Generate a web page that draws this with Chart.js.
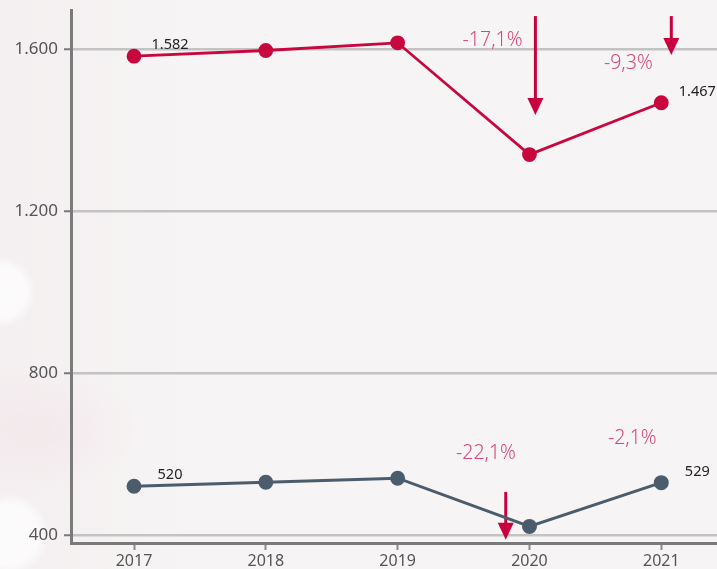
<!DOCTYPE html>
<html>
<head>
<meta charset="utf-8">
<script src="https://cdn.jsdelivr.net/npm/chart.js@4"></script>
<style>
  html, body { margin: 0; padding: 0; width: 717px; height: 569px; overflow: hidden; }
  body {
    background:
      radial-gradient(circle at 0px 292px, rgba(255,255,255,0.8) 0, rgba(255,255,255,0.7) 26px, rgba(255,255,255,0) 36px),
      radial-gradient(circle at 8px 535px, rgba(255,255,255,0.8) 0, rgba(255,255,255,0.7) 30px, rgba(255,255,255,0) 42px),
      radial-gradient(ellipse at 40px 430px, rgba(242,222,228,0.4) 0, rgba(242,222,228,0) 100px),
      linear-gradient(90deg, #f4eff0 0, #f6f4f4 180px, #f6f4f4 100%);
  }
  #wrap { position: relative; width: 730px; height: 569px; }
</style>
</head>
<body>
<div id="wrap"><canvas id="grafico"></canvas></div>
<script>
const anos = ["2017", "2018", "2019", "2020", "2021"];
const serieA = [1582, 1596, 1615, 1339, 1467];
const serieB = [520, 530, 540, 421, 529];
const yTicks = [400, 800, 1200, 1600];

// anotações: variação em % com seta (x em índice do ano, y em valor)
const variacoes = [
  { texto: "-17,1%", x: 2.72, y: 1622 },
  { texto: "-9,3%", x: 3.75, y: 1563 },
  { texto: "-22,1%", x: 2.67, y: 600 },
  { texto: "-2,1%", x: 3.78, y: 637 }
];
const setas = [
  { x: 3.045, de: 1681, ate: 1437 },
  { x: 4.076, de: 1681, ate: 1585 },
  { x: 2.82, de: 506, ate: 388 }
];

const fmt = v => Math.round(v).toString().replace(/\B(?=(\d{3})+(?!\d))/g, ".");
const FONTE = "'Noto Sans', sans-serif";
const pontos = serie => serie.map((v, i) => ({ x: i, y: v }));

const pluginExtras = {
  id: 'extras',
  beforeDatasetsDraw(chart) {
    const ctx = chart.ctx, xs = chart.scales.x, ys = chart.scales.y;
    ctx.save();
    ctx.strokeStyle = '#c8003f';
    ctx.fillStyle = '#c8003f';
    ctx.lineWidth = 3;
    setas.forEach(s => {
      const x = xs.getPixelForValue(s.x), y1 = ys.getPixelForValue(s.de), y2 = ys.getPixelForValue(s.ate);
      ctx.beginPath();
      ctx.moveTo(x, y1);
      ctx.lineTo(x, y2 - 12);
      ctx.stroke();
      ctx.beginPath();
      ctx.moveTo(x - 8, y2 - 17);
      ctx.lineTo(x + 8, y2 - 17);
      ctx.lineTo(x, y2);
      ctx.closePath();
      ctx.fill();
    });
    ctx.fillStyle = '#d4497a';
    ctx.font = "300 19.5px " + FONTE;
    ctx.textAlign = 'center';
    ctx.textBaseline = 'middle';
    variacoes.forEach(v => {
      ctx.fillText(v.texto, xs.getPixelForValue(v.x), ys.getPixelForValue(v.y));
    });
    ctx.restore();
  },
  afterDatasetsDraw(chart) {
    const ctx = chart.ctx;
    ctx.save();
    ctx.fillStyle = '#222';
    ctx.font = "14.5px " + FONTE;
    ctx.textAlign = 'center';
    ctx.textBaseline = 'middle';
    chart.data.datasets.forEach((ds, di) => {
      const meta = chart.getDatasetMeta(di);
      [0, ds.data.length - 1].forEach(i => {
        const p = meta.data[i];
        ctx.fillText(fmt(ds.data[i].y), p.x + 36, p.y - 11);
      });
    });
    ctx.restore();
  }
};

const ctx = document.getElementById('grafico').getContext('2d');
new Chart(ctx, {
  type: 'line',
  data: {
    datasets: [
      {
        data: pontos(serieA),
        borderColor: '#c8073f',
        backgroundColor: '#c8073f',
        borderWidth: 2.8,
        pointRadius: 6,
        pointHoverRadius: 6,
        tension: 0
      },
      {
        data: pontos(serieB),
        borderColor: '#4b5d6c',
        backgroundColor: '#4b5d6c',
        borderWidth: 3,
        pointRadius: 6,
        pointHoverRadius: 6,
        tension: 0
      }
    ]
  },
  plugins: [pluginExtras],
  options: {
    responsive: true,
    maintainAspectRatio: false,
    animation: false,
    layout: { padding: { top: 10, right: 0, left: 0, bottom: 0 } },
    plugins: { legend: { display: false }, tooltip: { enabled: false } },
    scales: {
      x: {
        type: 'linear',
        min: -0.478,
        max: 4.453,
        border: { color: '#7a7a7a', width: 3 },
        grid: { display: true, drawOnChartArea: false, tickLength: 7, tickColor: '#8a8a8a', tickWidth: 2 },
        ticks: { color: '#555', font: { family: FONTE, size: 16 }, padding: 2, callback: v => anos[v] },
        afterBuildTicks(s) { s.ticks = anos.map((a, i) => ({ value: i })); },
        afterFit(s) { s.height = 26; s.paddingLeft = 0; s.paddingRight = 0; }
      },
      y: {
        min: 380,
        max: 1696,
        border: { color: '#7a7a7a', width: 3 },
        grid: { color: '#c3c3c3', lineWidth: 2.5, tickLength: 7, tickColor: '#7a7a7a', tickWidth: 2 },
        ticks: {
          color: '#555',
          font: { family: FONTE, size: 17 },
          padding: 6,
          callback: v => fmt(v)
        },
        afterBuildTicks(s) { s.ticks = yTicks.map(v => ({ value: v })); },
        afterFit(s) { s.width = 71; s.paddingTop = 0; s.paddingBottom = 0; }
      }
    }
  }
});
</script>
</body>
</html>
